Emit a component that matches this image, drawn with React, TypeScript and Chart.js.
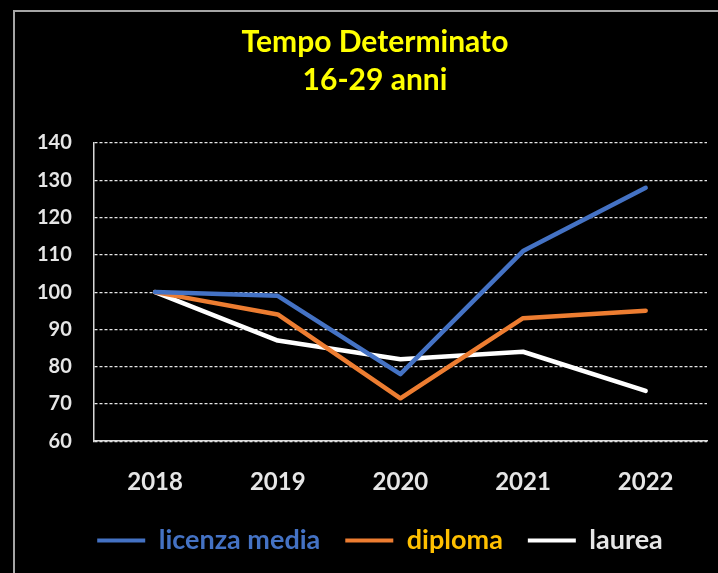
import React, { useEffect, useRef } from "react";
import { Chart, registerables } from "chart.js";

Chart.register(...registerables);

const years = ["2018", "2019", "2020", "2021", "2022"];
const licenzaMedia = [100, 99, 78, 111, 128];
const diploma = [100, 94, 71.5, 93, 95];
const laurea = [100, 87, 82, 84, 73.5];
const titleLines = ["Tempo Determinato", "16-29 anni"];
const seriesNames = ["licenza media", "diploma", "laurea"];

const FONT = "Lato, 'Liberation Sans', sans-serif";

// The original frame is wider than the visible picture, so the title and
// legend are centred a little to the right of the visible plot; the legend
// also sits a bit tighter under the axis labels.
const shiftPlugin = {
  id: "shiftBlocks",
  afterLayout(chart: any) {
    const t = chart.titleBlock;
    if (t) {
      t.left += 14;
      t.right += 14;
    }
    const l = chart.legend;
    if (l) {
      l.left += 19;
      l.right += 19;
      l.top -= 22;
      l.bottom -= 22;
    }
  },
};

export default function App() {
  const ref = useRef<HTMLCanvasElement | null>(null);

  useEffect(() => {
    if (!ref.current) return;
    const lineColors = ["#4472C4", "#ED7D31", "#FFFFFF"];
    const textColors = ["#4472C4", "#FFC000", "#E6E6E6"];
    const chart = new Chart(ref.current, {
      type: "line",
      data: {
        labels: years,
        datasets: [licenzaMedia, diploma, laurea].map((d, i) => ({
          label: seriesNames[i],
          data: d,
          borderColor: lineColors[i],
          backgroundColor: lineColors[i],
          borderWidth: 4.5,
          pointRadius: 0,
          tension: 0,
          borderCapStyle: "round" as const,
          borderJoinStyle: "round" as const,
        })),
      },
      plugins: [shiftPlugin],
      options: {
        animation: false,
        responsive: false,
        maintainAspectRatio: false,
        layout: { padding: { left: 0, right: 30, bottom: -13, top: 0 } },
        plugins: {
          title: {
            display: true,
            text: titleLines,
            color: "#FFFF00",
            font: { family: FONT, size: 30, weight: "bold", lineHeight: 1.25 },
            padding: { top: 12, bottom: 44 },
          },
          legend: {
            position: "bottom",
            labels: {
              font: { family: FONT, size: 27, weight: "bold" },
              boxWidth: 48,
              boxHeight: 4,
              padding: 25,
              generateLabels: (c: any) =>
                c.data.datasets.map((ds: any, i: number) => ({
                  text: ds.label,
                  fillStyle: lineColors[i],
                  strokeStyle: lineColors[i],
                  lineWidth: 0,
                  fontColor: textColors[i],
                  datasetIndex: i,
                  hidden: false,
                })),
            },
          },
          tooltip: { enabled: false },
        },
        scales: {
          x: {
            offset: true,
            grid: { display: false, drawTicks: false, offset: true },
            border: { display: true, color: "#D9D9D9", width: 1.5 },
            ticks: {
              color: "#E6E6E6",
              font: { family: FONT, size: 24, weight: "bold" },
              padding: 27,
            },
          },
          y: {
            min: 60,
            max: 140,
            grid: {
              color: "#E6E6E6",
              lineWidth: 1.2,
              drawTicks: false,
            },
            border: { display: true, color: "#D9D9D9", width: 1.5, dash: [3, 2] },
            ticks: {
              stepSize: 10,
              color: "#E6E6E6",
              font: { family: FONT, size: 20, weight: "bold" },
              padding: 22,
            },
          },
        },
      },
    });
    return () => chart.destroy();
  }, []);

  return (
    <div
      style={{
        position: "absolute",
        left: 0,
        top: 0,
        width: 718,
        height: 573,
        overflow: "hidden",
        background: "#000",
      }}
    >
      <div
        style={{
          position: "absolute",
          left: 13,
          top: 10,
          width: 724,
          height: 600,
          borderLeft: "2px solid #A6A6A6",
          borderTop: "2px solid #A6A6A6",
        }}
      >
        <canvas ref={ref} width={722} height={561} style={{ display: "block" }} />
      </div>
    </div>
  );
}
